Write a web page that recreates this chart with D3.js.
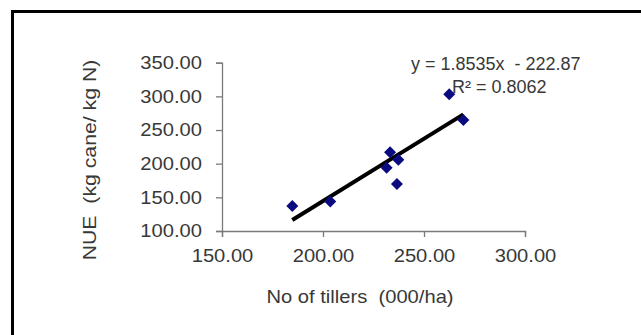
<!DOCTYPE html>
<html>
<head>
<meta charset="utf-8">
<script src="https://cdn.jsdelivr.net/npm/d3@7"></script>
<style>
  body { margin: 0; background: #fff; }
  text { font-family: "Liberation Sans", Arial, sans-serif; }
</style>
</head>
<body>
<div id="body"></div>
<script>
// values
var tillers = [184.8, 203.6, 231.5, 233.2, 237.3, 236.6, 262.5, 269.5]
var nue     = [137,   144,   194,   217,   206,   170,   303,   265]
var xTicks = [150, 200, 250, 300]
var yTicks = [100, 150, 200, 250, 300, 350]
var eqText = "y = 1.8535x  - 222.87"
var r2Text = "R\u00b2 = 0.8062"

var W = 641, H = 335

let svg = d3.select("#body").append("svg")
    .attr("width", W).attr("height", H)

svg.append("rect").attr("width", W).attr("height", H).attr("fill", "white")

// frame (only top and left edges show in the crop)
svg.append("path")
    .attr("d", "M12.5," + H + "V11.5H" + W)
    .attr("fill", "none").attr("stroke", "black").attr("stroke-width", 3)

let x = d3.scaleLinear().domain([150, 300]).range([222, 525])
let y = d3.scaleLinear().domain([100, 350]).range([231, 62.7])

let data = tillers.map((d, i) => ({x: d, y: nue[i]}))

// axes
let xAxis = d3.axisBottom(x).tickValues(xTicks).tickSize(6).tickPadding(8)
    .tickFormat(d3.format(".2f"))
let yAxis = d3.axisLeft(y).tickValues(yTicks).tickSize(6).tickPadding(14)
    .tickFormat(d3.format(".2f"))

let gx = svg.append("g").attr("transform", "translate(0," + y(100) + ")").call(xAxis)
let gy = svg.append("g").attr("transform", "translate(" + x(150) + ",0)").call(yAxis)

;[gx, gy].forEach(g => {
  g.select(".domain").attr("stroke", "#7a7a7a").attr("stroke-width", 1.3)
  g.selectAll(".tick line").attr("stroke", "#7a7a7a").attr("stroke-width", 1.3)
  g.selectAll(".tick text").attr("fill", "#383838").attr("font-size", 18)
    .attr("font-family", "Liberation Sans, Arial, sans-serif")
    .attr("transform", "scale(1.12,1)")
})
gx.selectAll(".tick text").attr("dy", "0.95em")
gy.selectAll(".tick text").attr("x", -20 / 1.12)

// trendline from least squares on the points
let mx = d3.mean(tillers), my = d3.mean(nue)
let slope = d3.sum(data, d => (d.x - mx) * (d.y - my)) / d3.sum(data, d => (d.x - mx) ** 2)
let icpt = my - slope * mx
let xr = d3.extent(tillers)
svg.append("line")
    .attr("x1", x(xr[0])).attr("y1", y(slope * xr[0] + icpt))
    .attr("x2", x(xr[1])).attr("y2", y(slope * xr[1] + icpt))
    .attr("stroke", "black").attr("stroke-width", 4)

// points
svg.selectAll(".pt").data(data).enter()
    .append("path").attr("class", "pt")
    .attr("d", d3.symbol(d3.symbolSquare, 72))
    .attr("transform", d => "translate(" + x(d.x) + "," + y(d.y) + ") rotate(45)")
    .attr("fill", "#0b0b80")

// equation labels
svg.append("text").attr("x", 411).attr("y", 70)
    .attr("font-size", 18).attr("fill", "#383838").style("white-space", "pre")
    .text(eqText)
svg.append("text").attr("x", 452).attr("y", 93)
    .attr("font-size", 18).attr("fill", "#383838")
    .text(r2Text)

// axis titles
svg.append("text")
    .attr("transform", "translate(360,303) scale(1.12,1)")
    .attr("text-anchor", "middle").attr("font-size", 18).attr("fill", "#383838")
    .style("white-space", "pre")
    .text("No of tillers  (000/ha)")
svg.append("text")
    .attr("transform", "translate(96,160) rotate(-90) scale(1.25,1.1)")
    .attr("text-anchor", "middle").attr("font-size", 17).attr("fill", "#383838")
    .style("white-space", "pre")
    .text("NUE  (kg cane/ kg N)")
</script>
</body>
</html>
